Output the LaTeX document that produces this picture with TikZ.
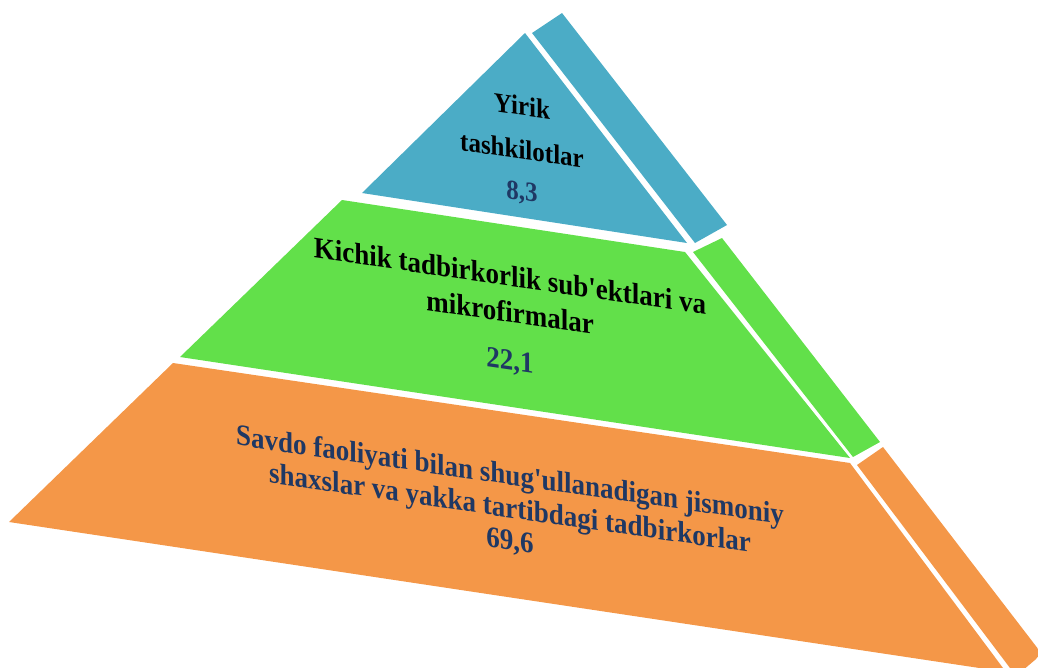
\documentclass[tikz,border=0pt]{standalone}
\usepackage{fontspec}
\setmainfont{Liberation Serif}
\usepackage{xcolor}
\usepackage{tikz}
\usetikzlibrary{positioning}
\definecolor{tierblue}{RGB}{75,172,198}
\definecolor{tiergreen}{RGB}{98,224,74}
\definecolor{tierorange}{RGB}{244,151,72}
\definecolor{valnavy}{RGB}{31,56,100}

\begin{document}
\begin{tikzpicture}[x=1pt, y=-1pt,
    tierlabel/.style={align=center, inner sep=0pt, yslant=-0.145, yscale=1.1},
    tiervalue/.style={inner sep=0pt, yslant=-0.145, yscale=1.1, text=valnavy}]
    \useasboundingbox (0,0) rectangle (1038,667);
    \clip (0,0) rectangle (1038,667);

    % bottom tier
    \fill[tierorange] (173,363) -- (850,463) -- (1006,672) -- (9,522) -- cycle;
    \fill[tierorange] (857,465) -- (883,447) [rounded corners=8pt] -- (1042,654) [sharp corners] -- (1016,676) -- cycle;
    % middle tier
    \fill[tiergreen] (342,200) -- (685,252) -- (850,458) -- (180,357) -- cycle;
    \fill[tiergreen] (693,252) -- (722,238) -- (880,442) -- (853,457) -- cycle;
    % top tier
    \fill[tierblue] (525,33) -- (687,243) -- (362,193) -- cycle;
    \fill[tierblue] (532,33) -- (562,13) -- (727,225) -- (695,243) -- cycle;

    \node[tierlabel, font=\bfseries\fontsize{25}{40}\selectfont] (yirik) at (522,128) {Yirik\\tashkilotlar};
    \node[tiervalue, font=\bfseries\fontsize{25}{30}\selectfont, below=22pt of yirik] (yirikval) {8,3};

    \node[tierlabel, font=\bfseries\fontsize{27}{33}\selectfont] (kichik) at (510,294) {Kichik tadbirkorlik sub\textquotesingle ektlari va\\mikrofirmalar};
    \node[tiervalue, font=\bfseries\fontsize{27}{30}\selectfont, below=27pt of kichik] (kichikval) {22,1};

    \node[tierlabel, text=valnavy, font=\bfseries\fontsize{27}{30}\selectfont] (savdo) at (510,494) {Savdo faoliyati bilan shug\textquotesingle ullanadigan jismoniy\\shaxslar va yakka tartibdagi tadbirkorlar};
    \node[tiervalue, font=\bfseries\fontsize{27}{30}\selectfont, below=6pt of savdo] (savdoval) {69,6};
\end{tikzpicture}
\end{document}
